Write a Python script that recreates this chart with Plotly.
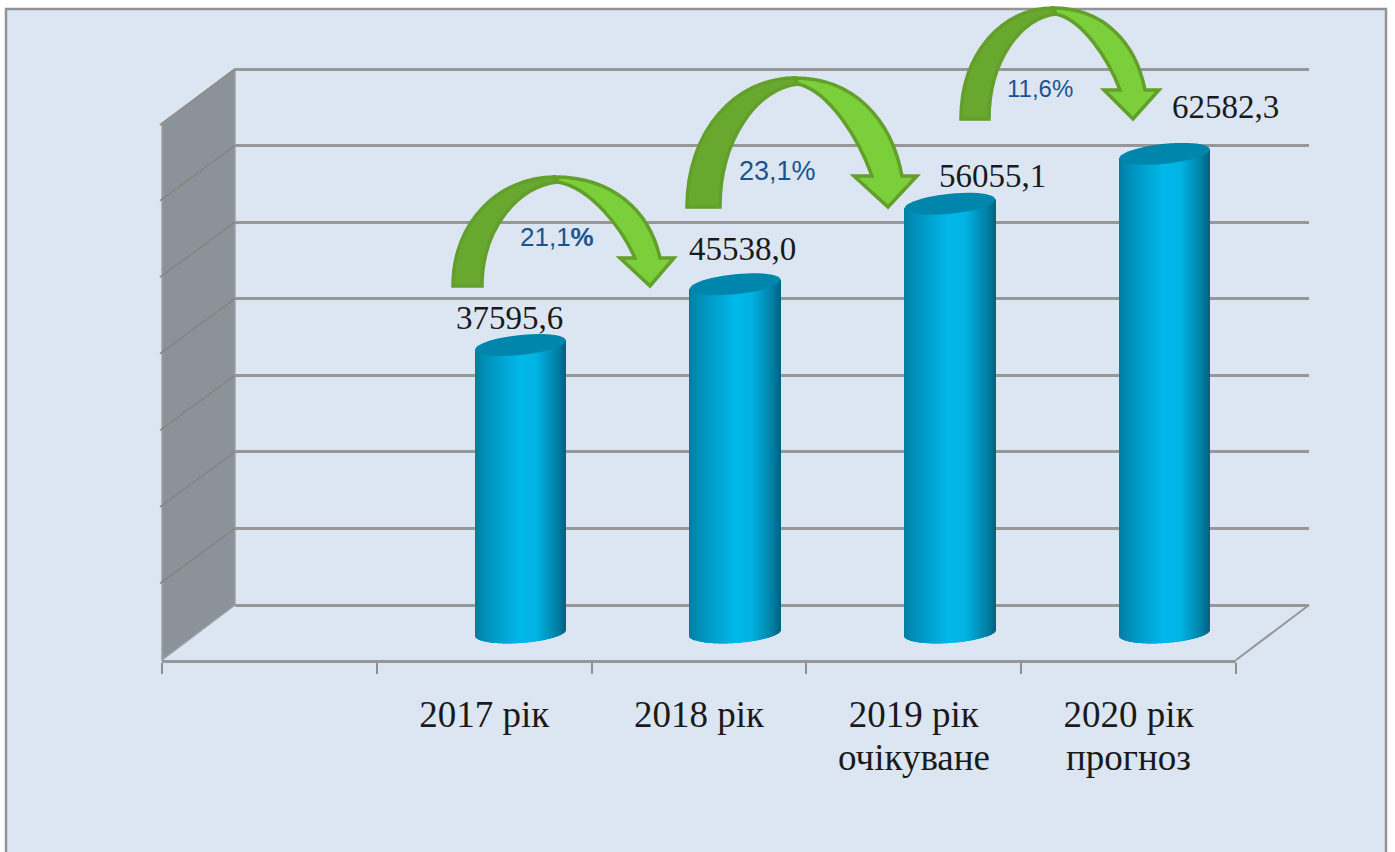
import math
import plotly.graph_objects as go

# ---- data ----
categories = ["2017 рік", "2018 рік", "2019 рік", "2020 рік"]
second_lines = ["", "", "очікуване", "прогноз"]
values = [37595.6, 45538.0, 56055.1, 62582.3]
value_labels = ["37595,6", "45538,0", "56055,1", "62582,3"]
growth_labels = ["21,1<b>%</b>", "23,1%", "11,6%"]
grid_ticks = [0, 10000, 20000, 30000, 40000, 50000, 60000, 70000]

# ---- canvas geometry (px) ----
W, H = 1395, 852
BG = "#dce6f2"
GRID = "#979797"
TEXT = "#1a1a1a"
S = 0.00765          # px per value unit
ZERO_PX = 632.6      # px row of value 0 in the cylinder plane
C0, DC = 520.5, 214.67
R = 45.2             # cylinder half width
TILT = 4.5
B_CAP = 10.0


def px(x):
    return x / W


def py(y):
    return 1 - y / H


def lerp_color(u):
    stops = [(0, (0, 124, 160)), (0.1, (0, 142, 184)), (0.5, (0, 184, 234)),
             (0.68, (0, 180, 228)), (0.92, (0, 126, 162)), (1, (0, 100, 130))]
    for (a, ca), (b, cb) in zip(stops, stops[1:]):
        if a <= u <= b:
            t = (u - a) / (b - a)
            return "rgb(%d,%d,%d)" % tuple(round(p + (q - p) * t) for p, q in zip(ca, cb))
    return "rgb(0,100,130)"


xs = [i + 1 for i in range(len(values))]
fig = go.Figure()

# back wall: invisible trace keeps the gridded subplot alive
fig.add_trace(go.Scatter(x=xs, y=values, mode="markers", marker=dict(opacity=0),
                         hoverinfo="skip", showlegend=False, xaxis="x", yaxis="y"))

# cylinder core
fig.add_trace(go.Bar(x=xs, y=values, width=50 / DC, marker=dict(color="#00b8ea", line_width=0),
                     showlegend=False, xaxis="x2", yaxis="y2"))

# cylinder body as 1-px shaded strips
n = 90
for k in range(n):
    o = -R + k * (2 * R / n)
    mid = (k + 0.5) / n
    u = 2 * mid - 1
    bottom_px = 633 - 3 * u + 10 * math.sqrt(max(0, 1 - u * u))
    base = (ZERO_PX - bottom_px) / S
    top_extra = TILT * u / S
    fig.add_trace(go.Bar(
        x=xs, y=[v + top_extra - base for v in values], base=base,
        width=1.3 / DC, offset=o / DC,
        marker=dict(color=lerp_color(mid), line_width=0),
        hoverinfo="skip", showlegend=False, xaxis="x2", yaxis="y2"))

# label axis trace
slots = [" "] + categories
fig.add_trace(go.Scatter(x=categories, y=values, mode="markers", marker=dict(opacity=0),
                         hoverinfo="skip", showlegend=False, xaxis="x3", yaxis="y3"))

shapes = []

# panel
shapes.append(dict(type="rect", xref="paper", yref="paper", layer="below",
                   x0=px(6), x1=px(1386), y0=-0.02, y1=py(9),
                   fillcolor=BG, line=dict(color="#939393", width=2.5)))

# side wall
shapes.append(dict(type="path", xref="paper", yref="paper", layer="below",
                   path=f"M{px(162)},{py(124)} L{px(235)},{py(69)} L{px(235)},{py(605)} L{px(162)},{py(660)} Z",
                   fillcolor="#8b9299", line=dict(color="#9da2a7", width=1.5)))
for t in grid_ticks[1:7]:
    dy = t * 76.57 / 10000
    shapes.append(dict(type="line", xref="paper", yref="paper", layer="below",
                       x0=px(160), x1=px(235), y0=py(660 - dy), y1=py(605 - dy),
                       line=dict(color="#86847f", width=1.5)))
shapes.append(dict(type="line", xref="paper", yref="paper", layer="below",
                   x0=px(160), x1=px(235), y0=py(125), y1=py(69),
                   line=dict(color="#8f8d8a", width=2)))
# right floor edge
shapes.append(dict(type="line", xref="paper", yref="paper", layer="below",
                   x0=px(1236), x1=px(1309), y0=py(660), y1=py(605),
                   line=dict(color=GRID, width=2)))

# cylinder caps through the value axis
for x_i, v in zip(xs, values):
    pts = []
    steps = 48
    for j in range(steps + 1):
        a = 2 * math.pi * j / steps
        u = math.cos(a)
        pts.append((x_i + u * R / DC, v + (TILT * u + B_CAP * math.sin(a)) / S))
    path = "M" + " L".join(f"{a:.5f},{b:.2f}" for a, b in pts) + " Z"
    shapes.append(dict(type="path", xref="x2", yref="y2", path=path,
                       fillcolor="#0086ad", line=dict(width=0)))


# curved arrows
def arrow(L, I, B, A, T, Ti, HL, TX, HR, HY, SI, SO):
    def P(x, y):
        return f"{px(x):.5f},{py(y):.5f}"
    dark = (f"M{P(L, B)} C{P(L, B - .59 * (B - T))} {P(A - .55 * (A - L), T)} {P(A, T)} "
            f"L{P(A + 3, Ti)} C{P(I + .5 * (A - I), Ti + .03 * (B - Ti))} {P(I, B - .55 * (B - Ti))} {P(I, B)} Z")
    light = (f"M{P(A, T)} C{P(A + .55 * (SO - A), T)} {P(A + .9 * (SO - A), T + .42 * (HY - T))} {P(SO, HY)} "
             f"L{P(HR, HY)} L{P(TX, B)} L{P(HL, HY)} L{P(SI, HY)} "
             f"C{P(SI - .17 * (SI - A), Ti + .6 * (HY - Ti))} {P(A + .45 * (SI - A), Ti + .08 * (HY - Ti))} {P(A + 3, Ti)} Z")
    return [dict(type="path", xref="paper", yref="paper", path=dark,
                 fillcolor="#69a82f", line=dict(color="#629f2b", width=3.5)),
            dict(type="path", xref="paper", yref="paper", path=light,
                 fillcolor="#7bcf3a", line=dict(color="#629f2b", width=3.5))]


shapes += arrow(453, 482, 286, 555, 177, 182, 620, 650, 674, 258, 635, 660)
shapes += arrow(687, 720, 207, 795, 78, 84, 854, 888, 917, 176, 872, 902)
shapes += arrow(961, 989, 119, 1053, 8, 14, 1104, 1133, 1159, 90, 1120, 1145)

annotations = []

# value labels
label_dx = [-11, 7, 43, 61]
label_dy = [27, 35, 28, 47]
for x_i, v, txt, dx, dy in zip(xs, values, value_labels, label_dx, label_dy):
    annotations.append(dict(x=x_i, y=v, xref="x2", yref="y2", text=txt, showarrow=False,
                            xanchor="center", yanchor="middle", xshift=dx, yshift=dy,
                            font=dict(family="Liberation Serif", size=33, color=TEXT)))

# growth labels
for txt, cx, cy, size in zip(growth_labels, [557, 778, 1040], [237, 171, 88], [26, 27, 24]):
    annotations.append(dict(x=px(cx), y=py(cy), xref="paper", yref="paper", text=txt, showarrow=False,
                            xanchor="center", yanchor="middle",
                            font=dict(family="Liberation Sans", size=size, color="#1a5490")))

# second lines of the category labels
for cat, line2 in zip(categories, second_lines):
    if line2:
        annotations.append(dict(x=cat, y=py(757), xref="x3", yref="paper", text=line2, showarrow=False,
                                xanchor="center", yanchor="middle",
                                font=dict(family="Liberation Serif", size=37, color=TEXT)))

# back wall is widened by half a step so the end gridlines are drawn
PAD = 500
PAD_PX = PAD * 76.57 / 10000

fig.update_layout(
    width=W, height=H, margin=dict(l=0, r=0, t=0, b=0),
    paper_bgcolor="white", plot_bgcolor="rgba(0,0,0,0)",
    barmode="overlay", showlegend=False, shapes=shapes, annotations=annotations,
    xaxis=dict(domain=[px(235), px(1309)], range=[0.5, 4.5], visible=False),
    yaxis=dict(domain=[py(605 + PAD_PX), py(69 - PAD_PX)], range=[-PAD, 70000 + PAD], tickvals=grid_ticks,
               showgrid=True, gridcolor=GRID, gridwidth=2.5, showticklabels=False,
               ticks="", zeroline=False, showline=False, anchor="x"),
    xaxis2=dict(domain=[0, 1], range=[1 - C0 / DC, 1 + (W - C0) / DC], visible=False, anchor="y2"),
    yaxis2=dict(domain=[0, 1], range=[(ZERO_PX - H) / S, ZERO_PX / S], visible=False, anchor="x2"),
    xaxis3=dict(domain=[px(162), px(1236)], type="category", categoryorder="array", categoryarray=slots,
                range=[-0.5, 4.5], tickmode="array", tickvals=slots, ticktext=slots,
                tickson="boundaries", ticks="outside", ticklen=11, tickwidth=2, tickcolor="#8f8f8f",
                showline=True, linecolor=GRID, linewidth=2.5, showgrid=False, zeroline=False,
                ticklabelstandoff=20, anchor="y3",
                tickfont=dict(family="Liberation Serif", size=37, color=TEXT)),
    yaxis3=dict(domain=[py(660), 1], range=[0, 1], visible=False, anchor="x3"),
    hovermode=False,
)

fig.write_html("out.html", post_script="document.body.style.margin='0';document.documentElement.style.overflow='hidden';",
               config=dict(displayModeBar=False))
